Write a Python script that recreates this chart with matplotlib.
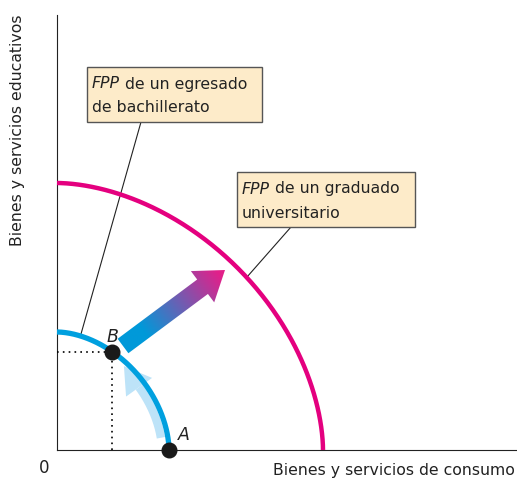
import numpy as np
import matplotlib
matplotlib.use("Agg")
import matplotlib.pyplot as plt
from matplotlib.patches import Rectangle, Polygon

plt.rcParams['font.family'] = ['DejaVu Sans']

# frontier intercepts (x, y) and shape exponent
ppf_bach = (112, 118)
ppf_univ = (266, 267)
shape_exp = 1.8

point_A = (112, 0)
point_B = (55, 98)

box_bach = ["de un egresado", "de bachillerato"]
box_univ = ["de un graduado", "universitario"]

x_label = "Bienes y servicios de consumo"
y_label = "Bienes y servicios educativos"

BLUE = "#00a0df"
MAGENTA = "#e4007f"
LIGHT = "#bde3f8"
BOXFILL = "#fdebc9"
INK = "#222222"


def frontier(a, b, p, n=400):
    t = np.linspace(0, np.pi / 2, n)
    x = a * np.cos(t) ** (2 / p)
    y = b * np.sin(t) ** (2 / p)
    return x, y


def arrow_poly(tail, tip, sw, hw, hl):
    tail = np.asarray(tail, float)
    tip = np.asarray(tip, float)
    d = (tip - tail) / np.linalg.norm(tip - tail)
    nrm = np.array([-d[1], d[0]])
    base = tip - hl * d
    return [tail + nrm * sw / 2, base + nrm * sw / 2, base + nrm * hw / 2, tip,
            base - nrm * hw / 2, base - nrm * sw / 2, tail - nrm * sw / 2]


fig = plt.figure(figsize=(5.17, 4.8), dpi=100)
ax = fig.add_axes([57 / 517, 30 / 480, 460 / 517, 435 / 480])
for s in ["top", "right"]:
    ax.spines[s].set_visible(False)
ax.spines["left"].set_color(INK)
ax.spines["bottom"].set_color(INK)
ax.set_xticks([])
ax.set_yticks([])

# frontiers
xb, yb = frontier(*ppf_bach, shape_exp)
ax.plot(xb, yb, color=BLUE, lw=3.8, zorder=4, solid_capstyle="butt", clip_on=False)
xu, yu = frontier(*ppf_univ, shape_exp)
ax.plot(xu, yu, color=MAGENTA, lw=3.2, zorder=4, solid_capstyle="butt", clip_on=False)

# dotted guides from B
ax.plot([0, point_B[0]], [point_B[1], point_B[1]], color="black", lw=1.2,
        ls=(0, (1, 2.5)), zorder=3)
ax.plot([point_B[0], point_B[0]], [0, point_B[1]], color="black", lw=1.2,
        ls=(0, (1, 2.5)), zorder=3)

# light blue movement arrow running just inside the frontier
xi, yi = frontier(ppf_bach[0] - 7, ppf_bach[1] - 7, shape_exp)
keep = (yi >= 12) & (xi >= 82)
xi, yi = xi[keep], yi[keep]
ax.plot(xi, yi, color=LIGHT, lw=6, zorder=3, solid_capstyle="butt")
end = np.array([xi[-1], yi[-1]])
prev = np.array([xi[-6], yi[-6]])
dd = (end - prev) / np.linalg.norm(end - prev)
ax.add_patch(Polygon(arrow_poly(end - dd, end + 26 * dd, 0, 32, 26), closed=True,
                     facecolor=LIGHT, edgecolor="none", zorder=3))

# points
ax.plot(*point_A, "o", color="#1a1a1a", ms=10.5, zorder=6, clip_on=False)
ax.plot(*point_B, "o", color="#1a1a1a", ms=10.5, zorder=6, clip_on=False)
ax.text(127, 15, "A", fontsize=12.5, style="italic", ha="center", va="center",
        zorder=7, color=INK)
ax.text(55, 113, "B", fontsize=12.5, style="italic", ha="center", va="center",
        zorder=7, color=INK)

# gradient arrow
tail = np.array([66.0, 104.0])
tip = np.array([168.0, 180.0])
arrow = Polygon(arrow_poly(tail, tip, 18, 39, 28), closed=True,
                facecolor="none", edgecolor="none")
ax.add_patch(arrow)
d = (tip - tail) / np.linalg.norm(tip - tail)
gx, gy = np.meshgrid(np.linspace(40, 200, 200), np.linspace(80, 210, 200))
proj = ((gx - tail[0]) * d[0] + (gy - tail[1]) * d[1]) / np.linalg.norm(tip - tail)
c0 = np.array(matplotlib.colors.to_rgb("#0099d9"))
c1 = np.array(matplotlib.colors.to_rgb("#e2208a"))
mix = np.clip((proj - 0.2) / 0.75, 0, 1)[..., None]
img = c0 * (1 - mix) + c1 * mix
im = ax.imshow(img, extent=[40, 200, 80, 210], origin="lower", zorder=5,
               interpolation="bilinear", aspect="auto")
im.set_clip_path(arrow)
ax.set_xlim(0, 460)
ax.set_ylim(0, 435)

# label boxes and leaders
ax.plot([84, 24], [328, 116], color=INK, lw=0.8, zorder=2)
ax.plot([234, 190], [223, 173], color=INK, lw=0.8, zorder=2)

ax.add_patch(Rectangle((30, 328), 175, 55, facecolor=BOXFILL, edgecolor="#555555",
                       lw=1.0, zorder=6))
ax.add_patch(Rectangle((180, 223), 178, 55, facecolor=BOXFILL, edgecolor="#555555",
                       lw=1.0, zorder=6))

fs = 11.3
t1 = ax.text(35, 366, "FPP", fontsize=fs, style="italic", va="center", zorder=7,
             color=INK)
ax.annotate(" " + box_bach[0], xy=(1, 0), xycoords=t1, va="bottom", fontsize=fs,
            zorder=7, color=INK)
ax.text(35, 342, box_bach[1], fontsize=fs, va="center", zorder=7, color=INK)

t2 = ax.text(185, 261, "FPP", fontsize=fs, style="italic", va="center", zorder=7,
             color=INK)
ax.annotate(" " + box_univ[0], xy=(1, 0), xycoords=t2, va="bottom", fontsize=fs,
            zorder=7, color=INK)
ax.text(185, 237, box_univ[1], fontsize=fs, va="center", zorder=7, color=INK)

# axis labels
fig.text(515 / 517, 1 - 470 / 480, x_label, ha="right", va="center", fontsize=11.3,
         color=INK)
fig.text(18 / 517, 1 - 130 / 480, y_label, ha="center", va="center", rotation=90,
         fontsize=11.3, color=INK)
fig.text(44 / 517, 1 - 468 / 480, "0", ha="center", va="center", fontsize=12,
         color=INK)

fig.savefig("out.png", dpi=100)
